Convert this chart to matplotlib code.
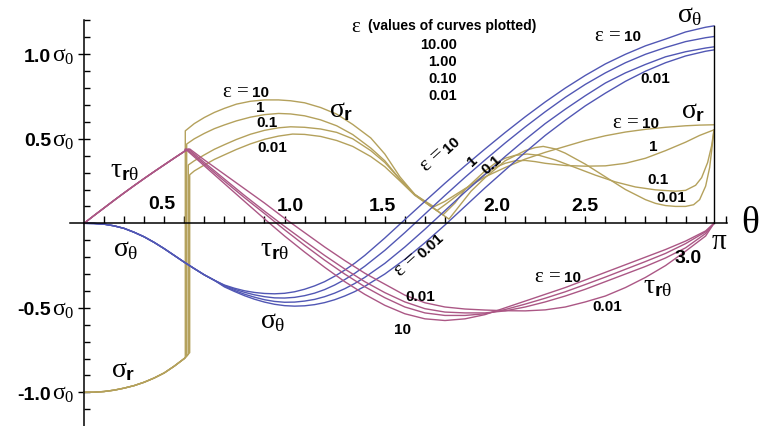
import numpy as np
import matplotlib
matplotlib.use("Agg")
import matplotlib.pyplot as plt
from matplotlib.ticker import FixedLocator

plt.rcParams["mathtext.fontset"] = "custom"
plt.rcParams["mathtext.rm"] = "Liberation Serif"
plt.rcParams["mathtext.it"] = "Liberation Serif"
plt.rcParams["mathtext.bf"] = "Liberation Sans:bold"
plt.rcParams["font.family"] = ["Liberation Sans", "DejaVu Sans"]

PI = np.pi

# ---- shared segment (all eps coincide) ----
theta_common = [0.0, 0.05, 0.1, 0.15, 0.2, 0.25, 0.3, 0.35, 0.4, 0.45, 0.5]
sr_common = [-1.0, -0.999, -0.995, -0.987, -0.975, -0.96, -0.94, -0.915, -0.885, -0.845, -0.80]
tau_common = [0.0, 0.046, 0.091, 0.136, 0.18, 0.223, 0.265, 0.306, 0.346, 0.386, 0.425]
theta_st_common = [0.0, 0.05, 0.1, 0.15, 0.2, 0.25, 0.3, 0.35, 0.4, 0.45, 0.5, 0.55, 0.6, 0.65]
st_common = [0.0, -0.001, -0.005, -0.015, -0.03, -0.053, -0.08, -0.113, -0.15, -0.19, -0.23,
             -0.268, -0.305, -0.337]

# jump location of sigma_r (eps = 10, 1, 0.1, 0.01) and value just before it
jump_theta = [0.505, 0.512, 0.52, 0.527]
jump_low = [-0.795, -0.785, -0.775, -0.765]
tau_peak = [0.44, 0.44, 0.44, 0.44]

# ---- sigma_r after the jump ----
sr_theta_10 = [0.505, 0.55, 0.6, 0.65, 0.7, 0.76, 0.83, 0.9, 0.97, 1.03, 1.1, 1.18, 1.26, 1.34,
               1.43, 1.5, 1.576, 1.65, 1.745, 1.8, 1.9, 2.0, 2.1, 2.2, 2.3, 2.4, 2.5, 2.6, 2.7,
               2.8, 2.9, 3.0, 3.07, PI]
sr_10 = [0.547, 0.59, 0.626, 0.656, 0.68, 0.705, 0.722, 0.73, 0.73, 0.725, 0.713, 0.685, 0.646,
         0.585, 0.505, 0.41, 0.274, 0.17, 0.098, 0.13, 0.205, 0.275, 0.33, 0.38, 0.42, 0.455,
         0.49, 0.518, 0.54, 0.556, 0.568, 0.577, 0.581, 0.583]
sr_theta_1 = [0.512, 0.55, 0.6, 0.65, 0.7, 0.76, 0.83, 0.9, 0.97, 1.03, 1.1, 1.18, 1.26, 1.34,
              1.43, 1.5, 1.576, 1.65, 1.76, 1.8, 1.9, 2.0, 2.05, 2.1, 2.15, 2.2, 2.25, 2.3, 2.4,
              2.5, 2.6, 2.7, 2.8, 2.9, 3.0, 3.07, PI]
sr_1 = [0.469, 0.5, 0.532, 0.56, 0.582, 0.606, 0.628, 0.643, 0.65, 0.647, 0.636, 0.612, 0.577,
        0.525, 0.445, 0.37, 0.26, 0.17, 0.075, 0.11, 0.2, 0.29, 0.33, 0.355, 0.37, 0.372, 0.365,
        0.355, 0.342, 0.338, 0.34, 0.355, 0.385, 0.43, 0.48, 0.52, 0.553]
sr_theta_01 = [0.52, 0.55, 0.6, 0.65, 0.7, 0.76, 0.83, 0.9, 0.97, 1.03, 1.1, 1.18, 1.26, 1.34,
               1.43, 1.5, 1.576, 1.65, 1.79, 1.85, 1.9, 2.0, 2.05, 2.1, 2.15, 2.21, 2.27, 2.35,
               2.45, 2.55, 2.65, 2.75, 2.85, 2.95, 3.0, 3.05, 3.08, 3.11, 3.13, PI]
sr_01 = [0.345, 0.37, 0.405, 0.438, 0.465, 0.496, 0.527, 0.55, 0.565, 0.571, 0.568, 0.558, 0.538,
         0.5, 0.43, 0.36, 0.26, 0.17, 0.05, 0.12, 0.2, 0.31, 0.355, 0.385, 0.402, 0.41, 0.402,
         0.375, 0.33, 0.285, 0.245, 0.215, 0.198, 0.19, 0.195, 0.225, 0.27, 0.36, 0.46, 0.553]
sr_theta_001 = [0.527, 0.55, 0.6, 0.65, 0.7, 0.76, 0.83, 0.9, 0.97, 1.04, 1.1, 1.18, 1.26, 1.34,
                1.43, 1.5, 1.576, 1.65, 1.82, 1.87, 1.93, 2.0, 2.1, 2.2, 2.25, 2.29, 2.35, 2.4,
                2.5, 2.6, 2.7, 2.8, 2.85, 2.9, 2.95, 3.0, 3.04, 3.07, 3.1, 3.12, 3.13, PI]
sr_001 = [0.287, 0.31, 0.345, 0.378, 0.405, 0.437, 0.47, 0.497, 0.516, 0.528, 0.526, 0.514, 0.49,
          0.455, 0.395, 0.335, 0.25, 0.165, 0.025, 0.1, 0.19, 0.27, 0.37, 0.43, 0.448, 0.455,
          0.44, 0.415, 0.35, 0.275, 0.2, 0.14, 0.118, 0.105, 0.10, 0.10, 0.11, 0.14, 0.22, 0.33,
          0.43, 0.553]

# ---- sigma_theta after the shared segment ----
st_theta = [0.7, 0.75, 0.8, 0.85, 0.9, 0.95, 1.0, 1.05, 1.1, 1.15, 1.2, 1.25, 1.3, 1.35, 1.4,
            1.5, 1.6, 1.7, 1.8, 1.9, 2.0, 2.1, 2.2, 2.3, 2.4, 2.5, 2.6, 2.7, 2.8, 2.9, 3.0, 3.1, PI]
st_10 = [-0.365, -0.384, -0.399, -0.409, -0.415, -0.417, -0.414, -0.405, -0.39, -0.37, -0.345,
         -0.313, -0.277, -0.236, -0.19, -0.087, 0.022, 0.13, 0.237, 0.34, 0.44, 0.537, 0.63,
         0.718, 0.80, 0.875, 0.943, 1.0, 1.05, 1.09, 1.132, 1.16, 1.168]
st_1 = [-0.368, -0.39, -0.408, -0.423, -0.434, -0.441, -0.442, -0.438, -0.428, -0.413, -0.392,
        -0.365, -0.333, -0.296, -0.254, -0.16, -0.055, 0.055, 0.165, 0.272, 0.375, 0.475, 0.57,
        0.66, 0.745, 0.822, 0.89, 0.95, 1.0, 1.04, 1.075, 1.098, 1.105]
st_01 = [-0.372, -0.397, -0.419, -0.437, -0.452, -0.462, -0.467, -0.466, -0.46, -0.45, -0.434,
         -0.413, -0.387, -0.356, -0.32, -0.237, -0.14, -0.035, 0.075, 0.185, 0.29, 0.395, 0.495,
         0.59, 0.675, 0.755, 0.83, 0.89, 0.94, 0.985, 1.015, 1.037, 1.044]
st_001 = [-0.376, -0.403, -0.428, -0.449, -0.466, -0.479, -0.487, -0.49, -0.488, -0.481, -0.469,
          -0.452, -0.43, -0.404, -0.373, -0.3, -0.213, -0.115, -0.01, 0.1, 0.21, 0.315, 0.42,
          0.52, 0.61, 0.695, 0.77, 0.84, 0.9, 0.95, 0.99, 1.018, 1.026]

# ---- tau_r_theta after the peak ----
tau_theta = [0.6, 0.7, 0.8, 0.9, 1.0, 1.1, 1.2, 1.3, 1.4, 1.5, 1.6, 1.7, 1.8, 1.9, 2.0, 2.1, 2.2,
             2.3, 2.4, 2.5, 2.6, 2.7, 2.8, 2.9, 3.0, 3.1, PI]
tau_10 = [0.34, 0.235, 0.13, 0.026, -0.075, -0.17, -0.26, -0.345, -0.42, -0.485, -0.535, -0.565,
          -0.575, -0.565, -0.54, -0.50, -0.46, -0.42, -0.38, -0.335, -0.29, -0.245, -0.2, -0.155,
          -0.105, -0.045, 0.0]
tau_1 = [0.35, 0.25, 0.152, 0.058, -0.038, -0.13, -0.218, -0.3, -0.375, -0.44, -0.495, -0.53,
         -0.545, -0.545, -0.535, -0.51, -0.478, -0.443, -0.405, -0.362, -0.318, -0.272, -0.226,
         -0.178, -0.12, -0.05, 0.0]
tau_01 = [0.36, 0.262, 0.165, 0.072, -0.018, -0.105, -0.19, -0.27, -0.345, -0.41, -0.465, -0.505,
          -0.525, -0.53, -0.53, -0.518, -0.495, -0.465, -0.43, -0.39, -0.345, -0.3, -0.255, -0.205,
          -0.145, -0.06, 0.0]
tau_001 = [0.375, 0.29, 0.205, 0.12, 0.03, -0.055, -0.14, -0.22, -0.295, -0.36, -0.425, -0.47,
           -0.495, -0.507, -0.513, -0.517, -0.518, -0.512, -0.495, -0.465, -0.43, -0.38, -0.32,
           -0.25, -0.165, -0.075, 0.0]

C_ST = "#5157b4"
C_SR = "#b4a15c"
C_TAU = "#ab5785"
LW = 1.0

fig = plt.figure(figsize=(7.66, 4.27), dpi=100)
ax = fig.add_axes([0, 0, 1, 1])
ax.set_xlim(-0.419, 3.401)
ax.set_ylim(-1.199, 1.327)

# sigma_r curves (with the jump)
sr_sets = [(sr_theta_10, sr_10), (sr_theta_1, sr_1), (sr_theta_01, sr_01), (sr_theta_001, sr_001)]
for k, (th, val) in enumerate(sr_sets):
    x = [t for t in theta_common if t < jump_theta[k]] + [jump_theta[k]] + list(th)
    y = [v for t, v in zip(theta_common, sr_common) if t < jump_theta[k]] + [jump_low[k]] + list(val)
    ax.plot(x, y, color=C_SR, lw=LW, zorder=2, solid_joinstyle="round")

# sigma_theta curves
for val in [st_10, st_1, st_01, st_001]:
    ax.plot(theta_st_common + st_theta, st_common + val, color=C_ST, lw=LW, zorder=2,
            solid_joinstyle="round")

# tau curves
for k, val in enumerate([tau_10, tau_1, tau_01, tau_001]):
    x = theta_common + [jump_theta[k]] + tau_theta
    y = tau_common + [tau_peak[k]] + val
    ax.plot(x, y, color=C_TAU, lw=LW, zorder=2, solid_joinstyle="round")

# closing line at theta = pi
ax.plot([PI, PI], [0, max(st_10)], color="black", lw=LW, zorder=3)

# axes through the origin
for s in ["top", "right"]:
    ax.spines[s].set_visible(False)
ax.spines["left"].set_position(("data", 0))
ax.spines["bottom"].set_position(("data", 0))
ax.spines["left"].set_bounds(-1.2, 1.2)
ax.spines["bottom"].set_bounds(-0.07, 3.207)
for s in ["left", "bottom"]:
    ax.spines[s].set_linewidth(1.1)
    ax.spines[s].set_zorder(4)
ax.xaxis.set_major_locator(FixedLocator([0.5, 1.0, 1.5, 2.0, 2.5, 3.0]))
ax.xaxis.set_minor_locator(FixedLocator([i / 10 for i in range(1, 33) if i % 5]))
ax.yaxis.set_major_locator(FixedLocator([-1.0, -0.5, 0.5, 1.0]))
ax.yaxis.set_minor_locator(FixedLocator([i / 10 for i in range(-12, 13) if i % 5]))
ax.tick_params(axis="x", which="both", direction="in", length=5, width=1, labelbottom=False)
ax.tick_params(axis="y", which="major", direction="inout", length=9, width=1, labelleft=False)
ax.tick_params(axis="y", which="minor", direction="in", length=4.5, width=1)

# axis labels
FS_TICK = 14
for xv, yv, s in [(0.39, 0.115, "0.5"), (1.03, 0.108, "1.0"), (1.49, 0.108, "1.5"),
                  (2.06, 0.108, "2.0"), (2.50, 0.108, "2.5"), (3.01, -0.205, "3.0")]:
    ax.text(xv, yv, s, fontsize=FS_TICK, fontweight="bold", ha="center", va="center")
for yv, s in [(1.0, "1.0"), (0.5, "0.5"), (-0.5, "-0.5"), (-1.0, "-1.0")]:
    ax.text(-0.165, yv - 0.038, s, fontsize=FS_TICK, fontweight="bold", ha="right", va="baseline")
    ax.text(-0.158, yv - 0.038, r"$\sigma_0$", fontsize=17, ha="left", va="baseline")
ax.text(3.165, -0.10, r"$\pi$", fontsize=21, ha="center", va="center")
ax.text(3.32, 0.01, r"$\theta$", fontsize=27, ha="center", va="center")

# legend-like text block
ax.text(1.357, 1.172, r"$\varepsilon$", fontsize=15, ha="center", va="center")
ax.text(1.416, 1.172, "(values of curves plotted)", fontsize=10, fontweight="bold",
        ha="left", va="center")
for yv, s in [(1.06, "10.00"), (0.958, "1.00"), (0.857, "0.10"), (0.757, "0.01")]:
    ax.text(1.86, yv, s, fontsize=10.5, fontweight="bold", ha="right", va="center")

FS_SIG = 20
FS_NUM = 11
SIG_R = r"$\sigma_{\mathbf{r}}$"
SIG_T = r"$\sigma_{\theta}$"
TAU = r"$\tau_{\mathbf{r}\theta}$"


def label(x, y, s, fs=FS_NUM, rot=0):
    ax.text(x, y, s, fontsize=fs, fontweight="bold", ha="center", va="center",
            rotation=rot, rotation_mode="anchor")


def eps_label(x, y, num, rot=0):
    # "eps =" ends at (x, y) and the bold value starts there; y is the baseline
    ax.text(x - 0.008, y, r"$\varepsilon\,=$", fontsize=15, ha="right", va="baseline",
            rotation=rot, rotation_mode="anchor")
    ax.text(x + 0.004, y, num, fontsize=FS_NUM, fontweight="bold", ha="left", va="baseline",
            rotation=rot, rotation_mode="anchor")


# sigma_r labels
eps_label(0.833, 0.755, "10")
label(0.88, 0.686, "1")
label(0.915, 0.60, "0.1")
label(0.94, 0.454, "0.01")
label(1.28, 0.675, SIG_R, FS_SIG)
label(0.195, -0.86, SIG_R, FS_SIG)
label(3.04, 0.67, SIG_R, FS_SIG)
eps_label(2.778, 0.568, "10")
label(2.84, 0.457, "1")
label(2.86, 0.26, "0.1")
label(2.93, 0.155, "0.01")

# sigma_theta labels
label(3.02, 1.237, SIG_T, FS_SIG)
eps_label(2.688, 1.082, "10")
label(2.85, 0.857, "0.01")
eps_label(1.812, 0.418, "10", rot=42)
label(1.935, 0.374, "1", rot=42)
label(2.035, 0.35, "0.1", rot=42)
eps_label(1.684, -0.205, "0.01", rot=42)
label(0.21, -0.147, SIG_T, FS_SIG)
label(0.94, -0.57, SIG_T, FS_SIG)

# tau labels
label(0.20, 0.32, TAU, FS_SIG)
label(0.95, -0.146, TAU, FS_SIG)
label(2.86, -0.365, TAU, FS_SIG)
label(1.675, -0.43, "0.01")
label(1.59, -0.625, "10")
eps_label(2.389, -0.342, "10")
label(2.61, -0.49, "0.01")

fig.savefig("out.png", dpi=100)
